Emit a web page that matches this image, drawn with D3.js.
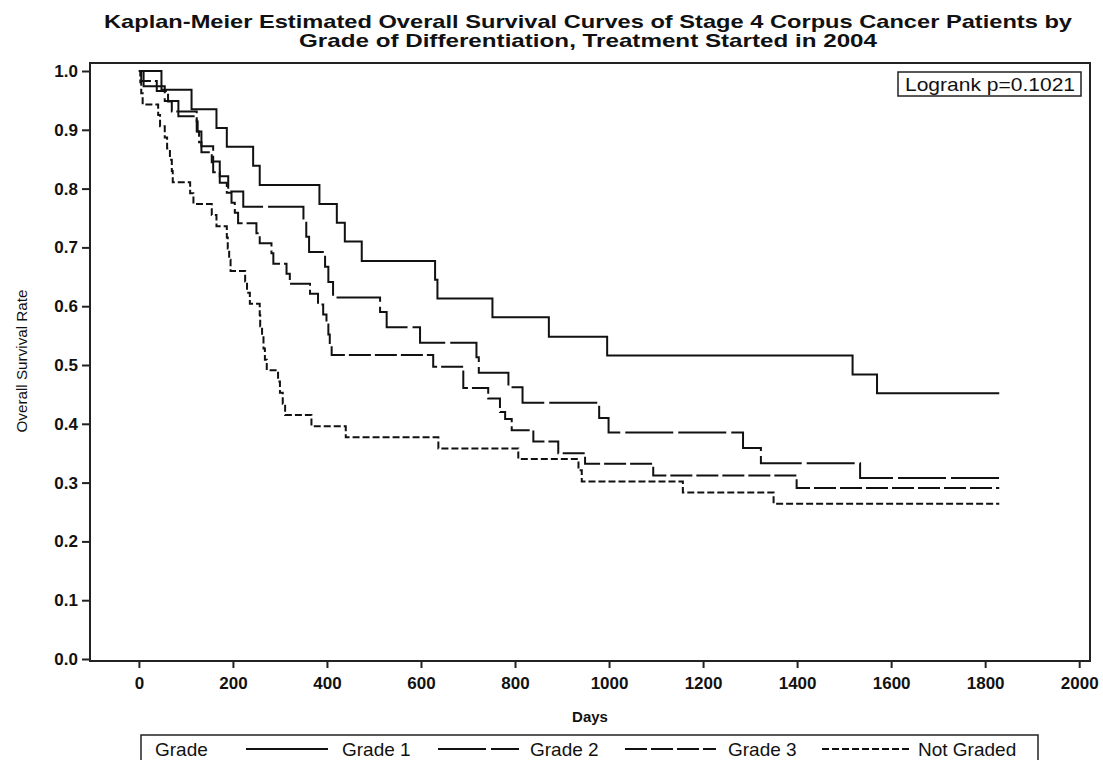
<!DOCTYPE html>
<html><head><meta charset="utf-8">
<script src="https://cdn.jsdelivr.net/npm/d3@7"></script>
<style>
body{margin:0;background:#fff}
text{font-family:"Liberation Sans",Arial,Helvetica,sans-serif;fill:#111}
</style>
</head><body>
<svg id="chart" width="1103" height="760"></svg>
<script>
// ---------- data ----------
const titleLines = ["Kaplan-Meier Estimated Overall Survival Curves of Stage 4 Corpus Cancer Patients by",
                    "Grade of Differentiation, Treatment Started in 2004"];
const xTicks = [0,200,400,600,800,1000,1200,1400,1600,1800,2000];
const yTicks = [0.0,0.1,0.2,0.3,0.4,0.5,0.6,0.7,0.8,0.9,1.0];
const groupNames = ["Grade 1","Grade 2","Grade 3","Not Graded"];
const lastDay = [1830,1830,1830,1830];
const logrankText = "Logrank p=0.1021";

const grade1Days = [0,48,112,165,187,243,257,384,421,438,474,630,635,752,872,996,1518,1570];
const grade1Surv = [1,0.968,0.935,0.903,0.871,0.839,0.806,0.774,0.742,0.710,0.677,0.645,0.613,0.581,0.548,0.516,0.484,0.452];

const grade2Days = [0,10,55,84,123,133,158,172,190,222,350,356,362,396,403,413,513,527,598,718,723,786,816,979,999,1285,1323,1534];
const grade2Surv = [1,0.974,0.949,0.923,0.897,0.872,0.846,0.821,0.795,0.769,0.744,0.718,0.692,0.667,0.641,0.615,0.590,0.564,0.538,0.513,0.487,0.462,0.436,0.410,0.385,0.359,0.333,0.308];

const grade3Days = [0,5,38,62,70,123,125,128,133,155,158,172,187,197,204,211,250,257,282,286,314,321,364,381,392,399,403,406,410,626,690,743,768,779,793,839,892,949,1094,1399];
const grade3Surv = [1,0.983,0.966,0.948,0.931,0.914,0.897,0.879,0.862,0.845,0.828,0.810,0.793,0.776,0.759,0.741,0.724,0.707,0.690,0.672,0.655,0.638,0.621,0.603,0.586,0.569,0.552,0.534,0.517,0.497,0.461,0.443,0.420,0.408,0.389,0.370,0.350,0.332,0.312,0.291];

const notGradedDays = [0,3,5,8,41,45,55,60,66,70,72,109,116,155,165,187,189,192,195,226,230,236,257,258,262,265,268,272,296,300,306,311,367,440,637,807,935,942,1157,1350];
const notGradedSurv = [1,0.981,0.962,0.943,0.925,0.906,0.887,0.868,0.849,0.830,0.811,0.792,0.774,0.755,0.736,0.717,0.698,0.679,0.660,0.642,0.623,0.604,0.585,0.566,0.547,0.528,0.509,0.491,0.472,0.453,0.434,0.415,0.396,0.377,0.358,0.340,0.321,0.302,0.283,0.264];

const allDays = [grade1Days, grade2Days, grade3Days, notGradedDays];
const allSurv = [grade1Surv, grade2Surv, grade3Surv, notGradedSurv];
const dashes = ["none","48,5","22,4","7,3"];

// ---------- drawing ----------
const svg = d3.select("#chart");
const ink = "#111";
const x = d3.scaleLinear().domain([-104, 2023]).range([90, 1090]);
const y = d3.scaleLinear().domain([0, 1]).range([659, 71]);
const plot = {left:90, right:1090, top:63, bottom:661};

// title
const tl = [{y:28, len:968}, {y:47, len:578}];
svg.selectAll("text.title").data(titleLines).join("text")
  .attr("class","title")
  .attr("x", 588).attr("y", (d,i)=>tl[i].y)
  .attr("text-anchor","middle")
  .attr("font-size",19).attr("font-weight","bold")
  .attr("textLength",(d,i)=>tl[i].len).attr("lengthAdjust","spacingAndGlyphs")
  .text(d=>d);

// curves
const line = d3.line().x(d=>x(d[0])).y(d=>y(d[1])).curve(d3.curveStepAfter);
groupNames.forEach((g,i)=>{
  const pts = allDays[i].map((d,k)=>[d, allSurv[i][k]]);
  pts.push([lastDay[i], allSurv[i][allSurv[i].length-1]]);
  svg.append("path").datum(pts)
    .attr("d", line).attr("fill","none")
    .attr("stroke", ink).attr("stroke-width", 2)
    .attr("stroke-dasharray", dashes[i]);
});

// frame
svg.append("rect").attr("x",plot.left).attr("y",plot.top)
  .attr("width",plot.right-plot.left).attr("height",plot.bottom-plot.top)
  .attr("fill","none").attr("stroke","#222").attr("stroke-width",2);

// axes
const yAxis = d3.axisLeft(y).tickValues(yTicks).tickFormat(d3.format(".1f")).tickSize(8).tickPadding(4);
const gy = svg.append("g").attr("transform",`translate(${plot.left},0)`).call(yAxis);
const xAxis = d3.axisBottom(x).tickValues(xTicks).tickFormat(d3.format("d")).tickSize(7).tickPadding(9);
const gx = svg.append("g").attr("transform",`translate(0,${plot.bottom})`).call(xAxis);
[gx,gy].forEach(g=>{
  g.select(".domain").remove();
  g.selectAll(".tick line").attr("stroke","#222").attr("stroke-width",2);
  g.selectAll(".tick text").attr("font-size",17).attr("font-weight","bold")
    .attr("font-family",'"Liberation Sans",Arial,sans-serif').attr("fill",ink);
});

// axis labels
svg.append("text").attr("x",590).attr("y",722).attr("text-anchor","middle")
  .attr("font-size",15).attr("font-weight","bold").text("Days");
svg.append("text").attr("transform","translate(27,361) rotate(-90)").attr("text-anchor","middle")
  .attr("font-size",15).attr("textLength",143).attr("lengthAdjust","spacingAndGlyphs")
  .text("Overall Survival Rate");

// logrank box
svg.append("rect").attr("x",898).attr("y",72).attr("width",183).attr("height",24)
  .attr("fill","#fff").attr("stroke","#222").attr("stroke-width",1.5);
svg.append("text").attr("x",905).attr("y",91).attr("font-size",19)
  .attr("textLength",170).attr("lengthAdjust","spacingAndGlyphs").text(logrankText);

// legend
svg.append("rect").attr("x",141).attr("y",735).attr("width",897).attr("height",40)
  .attr("fill","#fff").attr("stroke","#222").attr("stroke-width",1.5);
svg.append("text").attr("x",155).attr("y",756).attr("font-size",19).text("Grade");
const legSample = [[246,328],[438,519],[625,716],[822,912]];
const legText = [342,530,728,918];
groupNames.forEach((g,i)=>{
  svg.append("line").attr("x1",legSample[i][0]).attr("x2",legSample[i][1])
    .attr("y1",749).attr("y2",749).attr("stroke",ink).attr("stroke-width",2)
    .attr("stroke-dasharray",dashes[i]);
  svg.append("text").attr("x",legText[i]).attr("y",756).attr("font-size",19).text(g);
});
</script>
</body></html>
